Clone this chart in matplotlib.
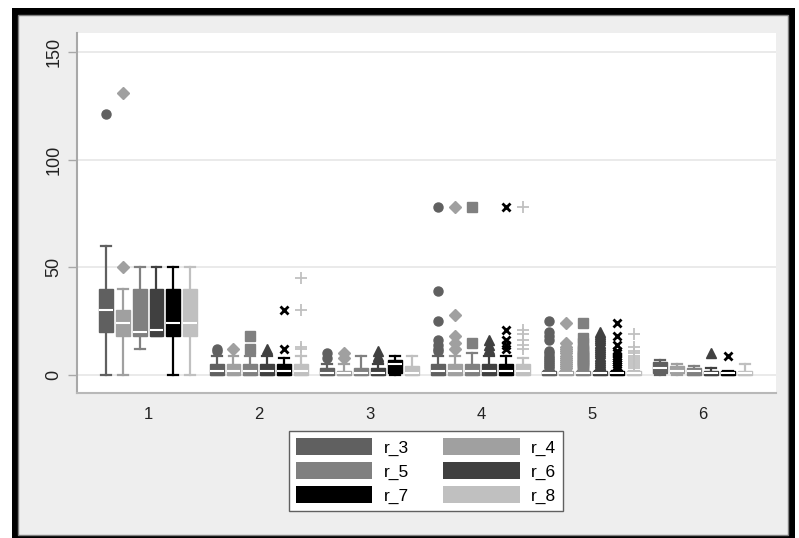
import numpy as np
import matplotlib.pyplot as plt
from matplotlib.patches import Rectangle, Patch

plt.rcParams['font.family'] = ['Liberation Sans', 'DejaVu Sans']

groups = [1, 2, 3, 4, 5, 6]
series = ['r_3', 'r_4', 'r_5', 'r_6', 'r_7', 'r_8']
colors = ['#606060', '#a0a0a0', '#808080', '#404040', '#000000', '#c0c0c0']
markers = ['o', 'D', 's', '^', 'x', '+']
msizes = [6.5, 6.3, 6.5, 7, 6, 8]

# box statistics, rows = series (r_3..r_8), columns = groups 1..6
q1 = [[20, 0, 0, 0, 0, 1],
      [18, 0, 0, 0, 0, 1],
      [18, 0, 0, 0, 0, 0],
      [18, 0, 0, 0, 0, 0],
      [18, 0, 1, 0, 0, 0],
      [18, 0, 0, 0, 0, 0]]
med = [[30, 2, 1, 2, 1, 3],
       [24, 2, 1, 2, 1, 2],
       [20, 2, 1, 2, 1, 2],
       [21, 2, 1, 2, 1, 1],
       [24, 2, 5, 2, 1, 1],
       [24, 2, 1, 2, 1, 1]]
q3 = [[40, 5, 3, 5, 2, 6],
      [30, 5, 2, 5, 2, 4],
      [40, 5, 3, 5, 2, 3],
      [40, 5, 3, 5, 2, 2],
      [40, 5, 7, 5, 2, 2],
      [40, 5, 4, 5, 2, 2]]
lo = [[0, 0, 0, 0, 0, 0],
      [0, 0, 0, 0, 0, 0],
      [12, 0, 0, 0, 0, 0],
      [18, 0, 0, 0, 0, 0],
      [0, 0, 0, 0, 0, 0],
      [0, 0, 0, 0, 0, 0]]
hi = [[60, 9, 5, 9, 2, 7],
      [40, 9, 5, 9, 2, 5],
      [50, 9, 9, 10, 2, 4],
      [50, 9, 5, 9, 2, 3],
      [50, 8, 9, 9, 2, 2],
      [50, 9, 9, 8, 2, 5]]
fliers = [
    [[121], [11, 12], [8, 10], [11, 12, 14, 16, 25, 39, 78],
     [3, 4, 5, 6, 7, 8, 9, 10, 11, 16, 18, 20, 25], []],
    [[50, 131], [12], [8, 10], [12, 15, 18, 28, 78],
     [3, 4, 5, 6, 7, 8, 9, 10, 11, 12, 13, 15, 24], []],
    [[], [12, 18], [], [15, 78],
     [3, 4, 5, 6, 7, 8, 9, 10, 11, 12, 15, 17, 24], []],
    [[], [12], [8, 9, 11], [12, 14, 16],
     [3, 4, 5, 6, 7, 8, 9, 10, 11, 12, 13, 14, 15, 16, 17, 18, 19, 20], [10]],
    [[], [12, 30], [], [12, 14, 16, 21, 78],
     [3, 4, 5, 6, 7, 8, 9, 10, 11, 14, 18, 24], [9]],
    [[], [12, 13, 30, 45], [], [12, 14, 16, 19, 21, 78],
     [3, 4, 5, 6, 7, 8, 9, 10, 11, 13, 19], []],
]

fig = plt.figure(figsize=(7.99, 5.38), dpi=100)
fig.patch.set_facecolor('white')
# screenshot frame
fig.add_artist(Rectangle((12/799, 0), 783/799, 530/538, transform=fig.transFigure,
                         facecolor='black', edgecolor='none', zorder=-10))
fig.add_artist(Rectangle((18/799, 3/538), 770/799, 520/538, transform=fig.transFigure,
                         facecolor='#eeeeee', edgecolor='#808080', linewidth=1, zorder=-9))

ax = fig.add_axes([77/799, 145/538, 699/799, 360/538])
ax.set_facecolor('white')

offsets = (np.arange(6) - 2.5) * 0.153
for i, name in enumerate(series):
    stats = []
    for j in range(len(groups)):
        stats.append(dict(med=med[i][j], q1=q1[i][j], q3=q3[i][j],
                          whislo=lo[i][j], whishi=hi[i][j], fliers=fliers[i][j]))
    mew = 2 if markers[i] == 'x' else (1.3 if markers[i] == '+' else 1)
    ax.bxp(stats, positions=np.array(groups) + offsets[i], widths=0.126, capwidths=0.09,
           patch_artist=True, manage_ticks=False,
           boxprops=dict(facecolor=colors[i], edgecolor=colors[i], linewidth=1),
           medianprops=dict(color='white', linewidth=1.5),
           whiskerprops=dict(color=colors[i], linewidth=1.6),
           capprops=dict(color=colors[i], linewidth=1.6),
           flierprops=dict(marker=markers[i], markerfacecolor=colors[i],
                           markeredgecolor=colors[i], markersize=msizes[i],
                           markeredgewidth=mew, linestyle='none'))

ax.set_xlim(0.36, 6.66)
ax.set_ylim(-8.4, 158.8)
ax.set_yticks([0, 50, 100, 150])
ax.set_xticks(groups)
ax.yaxis.grid(True, color='#e6e6e6', linewidth=1.2)
ax.set_axisbelow(True)
for s in ['top', 'right']:
    ax.spines[s].set_visible(False)
ax.spines['left'].set_color('#a8a8a8')
ax.spines['bottom'].set_color('#b8b8b8')
ax.spines['left'].set_linewidth(1.5)
ax.spines['bottom'].set_linewidth(1.5)
ax.tick_params(axis='y', length=6.5, color='#a8a8a8', width=1, pad=4,
               labelsize=13, labelcolor='#222222', labelrotation=90)
for lab in ax.get_yticklabels():
    lab.set_va('center')
ax.tick_params(axis='x', length=0, pad=10, labelsize=12, labelcolor='#222222')

handles = [Patch(facecolor=c, edgecolor='none') for c in colors]
order = [0, 2, 4, 1, 3, 5]
fig.legend([handles[k] for k in order], [series[k] for k in order],
           loc='center', bbox_to_anchor=(426/799, 1 - 471/538), ncol=2,
           fontsize=12.5, handlelength=4.4, handleheight=1.1, labelspacing=0.38,
           handletextpad=0.65, columnspacing=2.0, borderpad=0.4,
           fancybox=False, framealpha=1, edgecolor='#606060')

fig.savefig('out.png', dpi=100)
